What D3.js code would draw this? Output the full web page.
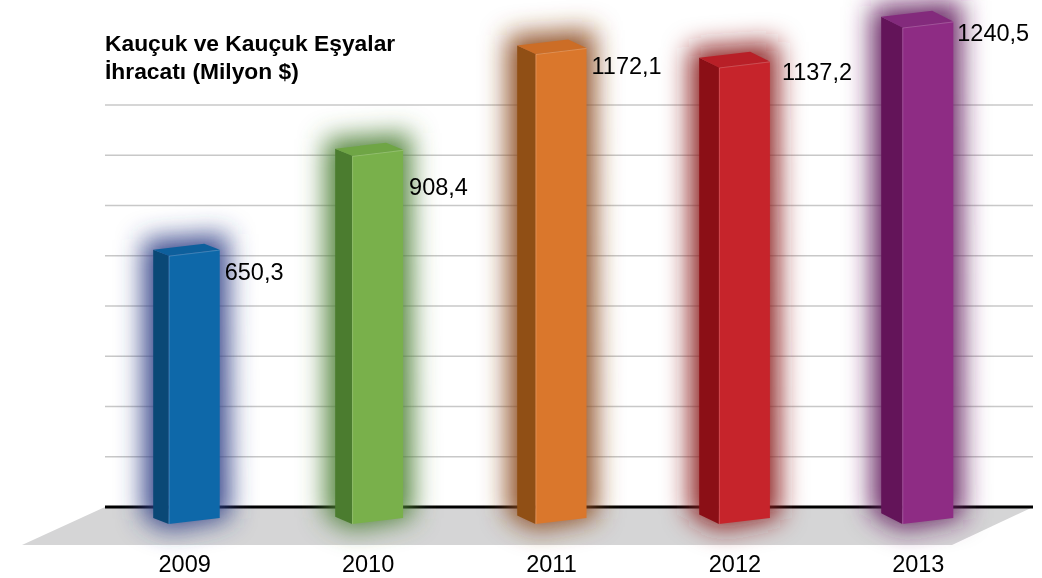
<!DOCTYPE html>
<html><head><meta charset="utf-8">
<script src="https://cdn.jsdelivr.net/npm/d3@7"></script>
<style>html,body{margin:0;padding:0;background:#fff;} svg{display:block;}</style>
</head><body><svg id="chart" width="1042" height="578"></svg>
<script>
// ---- data ----
const years = ["2009","2010","2011","2012","2013"];
const values = [650.3, 908.4, 1172.1, 1137.2, 1240.5];
const valueLabels = ["650,3","908,4","1172,1","1137,2","1240,5"];
const gridTicks = [130,260,390,520,650,780,910,1040];
const titleLines = ["Kauçuk ve Kauçuk Eşyalar","İhracatı (Milyon $)"];

// ---- styling / layout ----
const frontColors = ["#0e68a9","#79b04b","#da772c","#c6242b","#8e2c84"];
const sideColors  = ["#0a4876","#4b7c2f","#904f15","#8b0f16","#631459"];
const topColors   = ["#0d5f9c","#6fa545","#cc6d26","#b81f27","#832a7c"];
const glowColors  = ["#2f3f86","#4d7f35","#8a4a1a","#8a1a1e","#62205e"];
const labelDx = [5,6,5,12,4];
const labelDy = [24,39,20,13,14];
const FONT = "'Liberation Sans', Arial, Helvetica, sans-serif";

const svg = d3.select("#chart");

const x = d3.scaleBand().domain(years).range([102, 1019]).padding(0);
const y = d3.scaleLinear().domain([0, 1300]).range([507, 4.5]);

const defs = svg.append("defs");
const f = defs.append("filter").attr("id","glow")
  .attr("x","-150%").attr("y","-40%").attr("width","400%").attr("height","180%");
f.append("feGaussianBlur").attr("stdDeviation", 13);

const gridX0 = 105, gridX1 = 1033;

// grid lines
svg.append("g").selectAll("line").data(gridTicks).join("line")
  .attr("x1", gridX0).attr("x2", gridX1)
  .attr("y1", d => y(d)).attr("y2", d => y(d))
  .attr("stroke", "#c8c8c8").attr("stroke-width", 1.6);

// floor
const y0 = y(0);
svg.append("polygon")
  .attr("points", [[gridX0, y0],[gridX1, y0],[952, y0+38],[22, y0+38]].map(p=>p.join(",")).join(" "))
  .attr("fill", "#d5d5d6");

// baseline
svg.append("line").attr("x1", gridX0).attr("x2", gridX1)
  .attr("y1", y0).attr("y2", y0).attr("stroke","#000").attr("stroke-width",3);

// bars
const bars = years.map((yr, i) => {
  const cx = x(yr) + x.bandwidth()/2;
  const x0 = cx - 25, x1 = cx + 26;
  const dx = -(15.5 + 1.4*i), dy = -(6 + 1.2*i);
  const yt = y(values[i]), ytR = yt - 6;
  const yb = y0 + 17, ybR = y0 + 11;
  return {i, yr, cx, x0, x1, dx, dy, yt, ytR, yb, ybR};
});

const pts = a => a.map(p => p.join(",")).join(" ");

const gGlow = svg.append("g").attr("filter","url(#glow)");
gGlow.selectAll("polygon").data(bars).join("polygon")
  .attr("points", b => pts([[b.x0+b.dx-10, b.yt+b.dy-10],[b.x1+8, b.ytR+b.dy-10],[b.x1+10, b.ybR],[b.x0, b.yb+6],[b.x0+b.dx-10, b.yb+b.dy]]))
  .attr("fill", b => glowColors[b.i]).attr("opacity", 0.95);

const gBars = svg.append("g");
const bg = gBars.selectAll("g").data(bars).join("g");
// side
bg.append("polygon")
  .attr("points", b => pts([[b.x0, b.yt],[b.x0+b.dx, b.yt+b.dy],[b.x0+b.dx, b.yb+b.dy],[b.x0, b.yb]]))
  .attr("fill", b => sideColors[b.i]);
// top
bg.append("polygon")
  .attr("points", b => pts([[b.x0, b.yt],[b.x1, b.ytR],[b.x1+b.dx, b.ytR+b.dy],[b.x0+b.dx, b.yt+b.dy]]))
  .attr("fill", b => topColors[b.i]);
// front
bg.append("polygon")
  .attr("points", b => pts([[b.x0, b.yt],[b.x1, b.ytR],[b.x1, b.ybR],[b.x0, b.yb]]))
  .attr("fill", b => frontColors[b.i]);
// edge highlight
bg.append("polyline")
  .attr("points", b => pts([[b.x0+0.5, b.yb],[b.x0+0.5, b.yt+0.5],[b.x1, b.ytR+0.5]]))
  .attr("fill","none").attr("stroke","#fff").attr("stroke-opacity",0.18).attr("stroke-width",1);

// value labels
svg.append("g").selectAll("text").data(bars).join("text")
  .attr("x", b => b.x1 + labelDx[b.i])
  .attr("y", b => b.yt + labelDy[b.i])
  .attr("font-family", FONT).attr("font-size", 23.5).attr("fill", "#000")
  .text(b => valueLabels[b.i]);

// year labels
svg.append("g").selectAll("text").data(bars).join("text")
  .attr("x", b => b.cx - 9).attr("y", 572)
  .attr("text-anchor","middle")
  .attr("font-family", FONT).attr("font-size", 23.5).attr("fill", "#000")
  .text(b => b.yr);

// title
svg.append("g").selectAll("text").data(titleLines).join("text")
  .attr("x", 105).attr("y", (d,i) => 51 + i*28)
  .attr("font-family", FONT).attr("font-size", 22.8).attr("font-weight", "bold").attr("fill", "#000")
  .text(d => d);
</script>
</body></html>
